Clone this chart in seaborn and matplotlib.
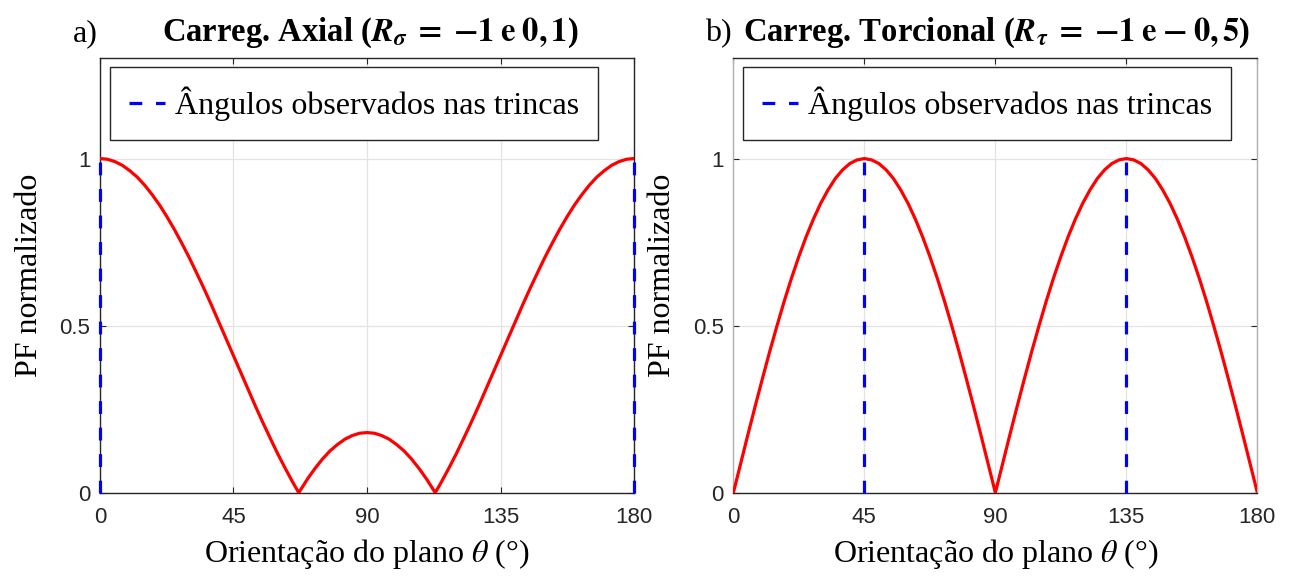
import matplotlib
matplotlib.use("Agg")
import matplotlib.pyplot as plt
import seaborn as sns
import pandas as pd

# Normalized fatigue parameter vs. plane orientation (degrees)
angles_axial = [0, 2.5, 5, 7.5, 10, 12.5, 15, 17.5, 20, 22.5, 25, 27.5, 30, 32.5, 35,
                37.5, 40, 42.5, 45, 47.5, 50, 52.5, 55, 57.5, 60, 62.5, 65, 67, 67.5,
                70, 72.5, 75, 77.5, 80, 82.5, 85, 87.5, 90, 92.5, 95, 97.5, 100, 102.5,
                105, 107.5, 110, 112.5, 113, 115, 117.5, 120, 122.5, 125, 127.5, 130,
                132.5, 135, 137.5, 140, 142.5, 145, 147.5, 150, 152.5, 155, 157.5, 160,
                162.5, 165, 167.5, 170, 172.5, 175, 177.5, 180]
pf_axial = [1.000, 0.998, 0.991, 0.980, 0.964, 0.945, 0.921, 0.893, 0.862, 0.827, 0.789,
            0.748, 0.705, 0.659, 0.612, 0.563, 0.512, 0.461, 0.410, 0.359, 0.308, 0.257,
            0.208, 0.161, 0.115, 0.072, 0.031, 0.000, 0.007,
            0.042, 0.073, 0.101, 0.125, 0.144, 0.160, 0.171, 0.178, 0.180, 0.178, 0.171,
            0.160, 0.144, 0.125, 0.101, 0.073, 0.042, 0.007, 0.000, 0.031, 0.072, 0.115,
            0.161, 0.208, 0.257, 0.308, 0.359, 0.410, 0.461, 0.512, 0.563, 0.612, 0.659,
            0.705, 0.748, 0.789, 0.827, 0.862, 0.893, 0.921, 0.945, 0.964, 0.980, 0.991,
            0.998, 1.000]

angles_torsion = [0, 2.5, 5, 7.5, 10, 12.5, 15, 17.5, 20, 22.5, 25, 27.5, 30, 32.5, 35,
                  37.5, 40, 42.5, 45, 47.5, 50, 52.5, 55, 57.5, 60, 62.5, 65, 67.5, 70,
                  72.5, 75, 77.5, 80, 82.5, 85, 87.5, 90, 92.5, 95, 97.5, 100, 102.5,
                  105, 107.5, 110, 112.5, 115, 117.5, 120, 122.5, 125, 127.5, 130, 132.5,
                  135, 137.5, 140, 142.5, 145, 147.5, 150, 152.5, 155, 157.5, 160, 162.5,
                  165, 167.5, 170, 172.5, 175, 177.5, 180]
pf_torsion = [0.000, 0.087, 0.174, 0.259, 0.342, 0.423, 0.500, 0.574, 0.643, 0.707, 0.766,
              0.819, 0.866, 0.906, 0.940, 0.966, 0.985, 0.996, 1.000, 0.996, 0.985, 0.966,
              0.940, 0.906, 0.866, 0.819, 0.766, 0.707, 0.643, 0.574, 0.500, 0.423, 0.342,
              0.259, 0.174, 0.087, 0.000,
              0.087, 0.174, 0.259, 0.342, 0.423, 0.500, 0.574, 0.643, 0.707, 0.766,
              0.819, 0.866, 0.906, 0.940, 0.966, 0.985, 0.996, 1.000, 0.996, 0.985, 0.966,
              0.940, 0.906, 0.866, 0.819, 0.766, 0.707, 0.643, 0.574, 0.500, 0.423, 0.342,
              0.259, 0.174, 0.087, 0.000]

# Crack angles observed in the specimens
observed_axial = [0, 180]
observed_torsion = [45, 135]
observed_level = [0, 1]

x_ticks = [0, 45, 90, 135, 180]
y_ticks = [0, 0.5, 1]
y_tick_labels = ["0", "0.5", "1"]

legend_label = "Ângulos observados nas trincas"
x_label = r"Orientação do plano $\theta$ (°)"
y_label = "PF normalizado"

sns.set_theme(style="white")
plt.rcParams["font.family"] = ["Liberation Serif", "DejaVu Serif"]
plt.rcParams["mathtext.fontset"] = "stix"

DARK = "#262626"
fig = plt.figure(figsize=(12.9, 5.79), dpi=100)
ax_a = fig.add_axes([0.0775, 0.149, 0.4140, 0.7503])
ax_b = fig.add_axes([0.5685, 0.149, 0.4062, 0.7503])


def draw_panel(ax, angles, pf, observed, side_spine_color):
    df = pd.DataFrame({"theta": angles, "pf": pf})
    sns.lineplot(data=df, x="theta", y="pf", ax=ax, color="red", lw=2.3,
                 estimator=None, sort=False, zorder=3)
    for i, a in enumerate(observed):
        ax.plot([a, a], observed_level, color="blue", lw=2.3,
                linestyle=(0, (4, 4.3)), clip_on=False, zorder=4,
                label=legend_label if i == 0 else None)
    ax.set_xlim(0, 180)
    ax.set_ylim(0, 1.3)
    ax.set_xticks(x_ticks)
    ax.set_yticks(y_ticks)
    ax.set_yticklabels(y_tick_labels)
    ax.grid(True, color="#e3e3e3", lw=0.9, zorder=0)
    ax.set_axisbelow(True)
    for name, sp in ax.spines.items():
        sp.set_visible(True)
        sp.set_linewidth(1.0)
        sp.set_color(DARK)
    ax.spines["left"].set_color(side_spine_color)
    ax.spines["right"].set_color(side_spine_color)
    ax.tick_params(direction="in", length=4.5, width=0.8, color=DARK,
                   top=True, right=True, bottom=True, left=True,
                   labelsize=16, labelcolor=DARK, labelfontfamily="Liberation Sans")
    ax.tick_params(axis="x", pad=10)
    ax.tick_params(axis="y", pad=7)
    ax.set_xlabel(x_label, fontsize=23, labelpad=7, color="black")
    ax.set_ylabel(y_label, fontsize=23, labelpad=11, color="black")
    leg = ax.legend(loc="upper left", bbox_to_anchor=(0.018, 0.979), borderaxespad=0,
                    fontsize=23, frameon=True, fancybox=False, framealpha=1,
                    borderpad=0.6, handlelength=1.13, handletextpad=0.31,
                    labelcolor="black")
    leg.get_frame().set_edgecolor(DARK)
    leg.get_frame().set_linewidth(1.0)


draw_panel(ax_a, angles_axial, pf_axial, observed_axial, DARK)
draw_panel(ax_b, angles_torsion, pf_torsion, observed_torsion, "#b0b0b0")

title_y = 1 - 41 / 579
fig.text(73 / 1290, title_y, "a)", fontsize=23, va="baseline", ha="left", color="black")
fig.text(370 / 1290, title_y,
         r"Carreg. Axial ($\mathbfit{R}_{\mathbfit{\sigma}}\;\mathbf{=}\;\mathbf{-1}"
         r"\;\mathbf{e}\;\mathbf{0,1}$)",
         fontsize=23.5, fontweight="bold", va="baseline", ha="center", color="black")
fig.text(705 / 1290, title_y, "b)", fontsize=23, va="baseline", ha="left", color="black")
fig.text(997 / 1290, title_y,
         r"Carreg. Torcional ($\mathbfit{R}_{\mathbfit{\tau}}\;\mathbf{=}\;\mathbf{-1}"
         r"\;\mathbf{e}\;\mathbf{-}\;\mathbf{0,5}$)",
         fontsize=23.5, fontweight="bold", va="baseline", ha="center", color="black")

fig.savefig("out.png", dpi=100)
